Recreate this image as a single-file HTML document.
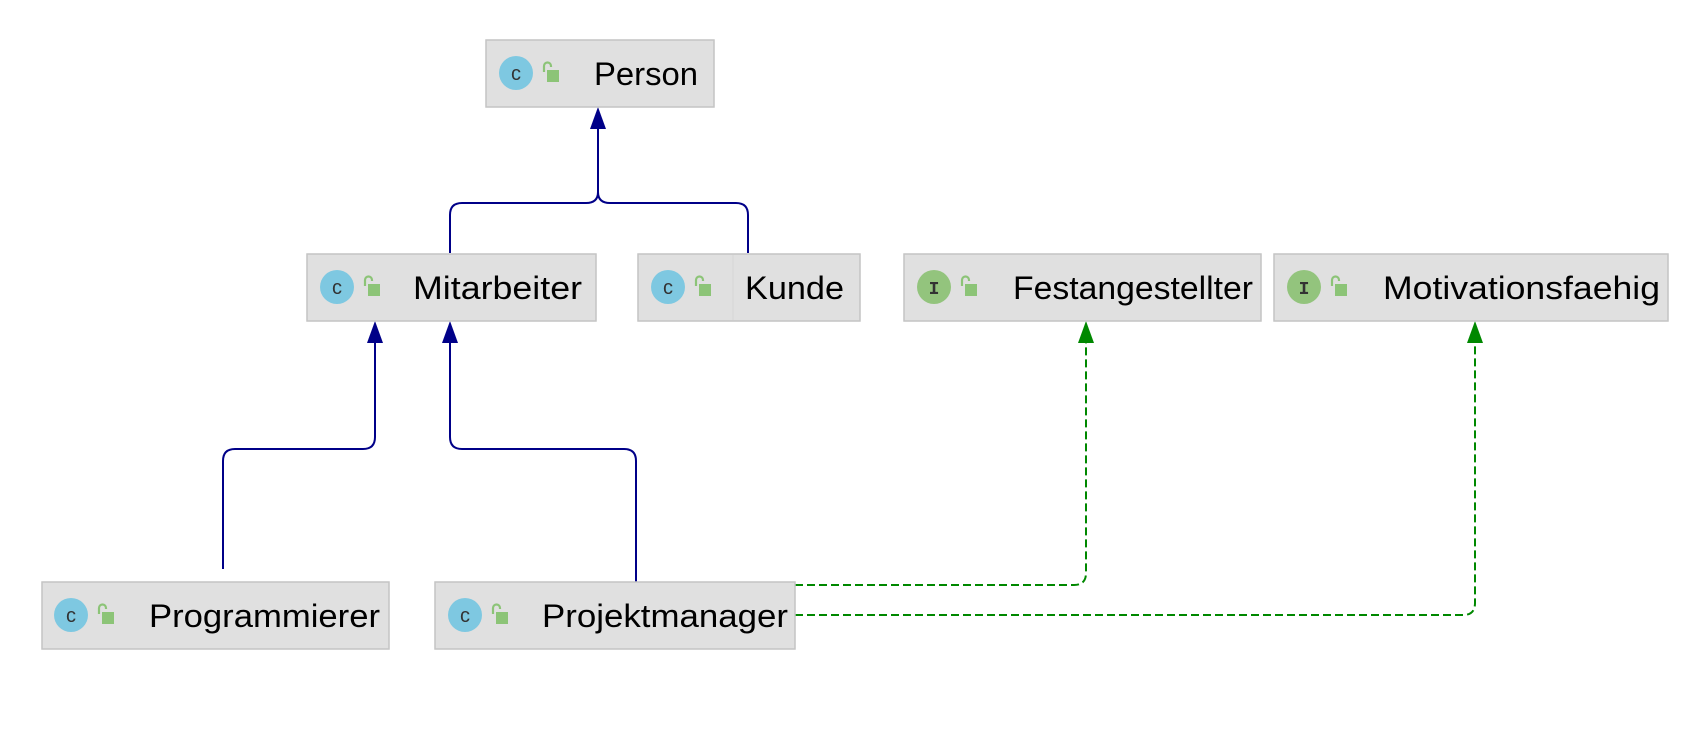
<!DOCTYPE html>
<html><head><meta charset="utf-8"><style>
html,body{margin:0;padding:0;background:#fff;width:1708px;height:736px;overflow:hidden}
svg text{font-family:"Liberation Sans",sans-serif;font-size:32px;fill:#000}
</style></head><body>
<svg width="1708" height="736" viewBox="0 0 1708 736" xmlns="http://www.w3.org/2000/svg">
<defs>
<g id="lock"><path d="M1 10 V4 a3.5 3.5 0 0 1 7 0 V5" fill="none" stroke="#8cc477" stroke-width="2.2"/><rect x="4" y="8" width="12" height="12" fill="#8cc477"/></g>
</defs>
<g fill="none" stroke="#000088" stroke-width="2">
<path d="M598 122 V192 Q598 203 586 203 H462 Q450 203 450 215 V253"/>
<path d="M598 192 Q598 203 610 203 H736 Q748 203 748 215 V253"/>
<path d="M375 336 V437 Q375 449 363 449 H235 Q223 449 223 461 V569"/>
<path d="M450 336 V437 Q450 449 462 449 H624 Q636 449 636 461 V582"/>
</g>
<g fill="#000088">
<polygon points="598,107 590,129 606,129"/>
<polygon points="375,321 367,343 383,343"/>
<polygon points="450,321 442,343 458,343"/>
</g>
<g fill="none" stroke="#008800" stroke-width="2" stroke-dasharray="8,4">
<path d="M795 585 H1074 Q1086 585 1086 573 V336"/>
<path d="M795 615 H1463 Q1475 615 1475 603 V336"/>
</g>
<g fill="#008800">
<polygon points="1086,321 1078,343 1094,343"/>
<polygon points="1475,321 1467,343 1483,343"/>
</g>
<g stroke="#c4c4c4" stroke-width="1.5" fill="#e0e0e0">
<rect x="486" y="40" width="228" height="67"/>
<rect x="307" y="254" width="289" height="67"/>
<rect x="638" y="254" width="222" height="67"/>
<rect x="904" y="254" width="357" height="67"/>
<rect x="1274" y="254" width="394" height="67"/>
<rect x="42" y="582" width="347" height="67"/>
<rect x="435" y="582" width="360" height="67"/>
</g>
<line x1="733" y1="255" x2="733" y2="320" stroke="#d6d6d6"/>
<g>
<circle cx="516" cy="73" r="17" fill="#7ec8e1"/><text x="516" y="80" text-anchor="middle" style="font-size:20px;fill:#333">c</text><use href="#lock" x="543" y="62"/>
<circle cx="337" cy="287" r="17" fill="#7ec8e1"/><text x="337" y="294" text-anchor="middle" style="font-size:20px;fill:#333">c</text><use href="#lock" x="364" y="276"/>
<circle cx="668" cy="287" r="17" fill="#7ec8e1"/><text x="668" y="294" text-anchor="middle" style="font-size:20px;fill:#333">c</text><use href="#lock" x="695" y="276"/>
<circle cx="934" cy="287" r="17" fill="#93c47d"/><text x="934" y="294" text-anchor="middle" style="font-size:18px;fill:#333;font-weight:bold;font-family:'Liberation Mono',monospace">I</text><use href="#lock" x="961" y="276"/>
<circle cx="1304" cy="287" r="17" fill="#93c47d"/><text x="1304" y="294" text-anchor="middle" style="font-size:18px;fill:#333;font-weight:bold;font-family:'Liberation Mono',monospace">I</text><use href="#lock" x="1331" y="276"/>
<circle cx="71" cy="615" r="17" fill="#7ec8e1"/><text x="71" y="622" text-anchor="middle" style="font-size:20px;fill:#333">c</text><use href="#lock" x="98" y="604"/>
<circle cx="465" cy="615" r="17" fill="#7ec8e1"/><text x="465" y="622" text-anchor="middle" style="font-size:20px;fill:#333">c</text><use href="#lock" x="492" y="604"/>
</g>
<text x="594" y="85" textLength="104" lengthAdjust="spacingAndGlyphs">Person</text>
<text x="413" y="299" textLength="169" lengthAdjust="spacingAndGlyphs">Mitarbeiter</text>
<text x="745" y="299" textLength="99" lengthAdjust="spacingAndGlyphs">Kunde</text>
<text x="1013" y="299" textLength="240" lengthAdjust="spacingAndGlyphs">Festangestellter</text>
<text x="1383" y="299" textLength="277" lengthAdjust="spacingAndGlyphs">Motivationsfaehig</text>
<text x="149" y="627" textLength="231" lengthAdjust="spacingAndGlyphs">Programmierer</text>
<text x="542" y="627" textLength="246" lengthAdjust="spacingAndGlyphs">Projektmanager</text>
</svg>
</body></html>
